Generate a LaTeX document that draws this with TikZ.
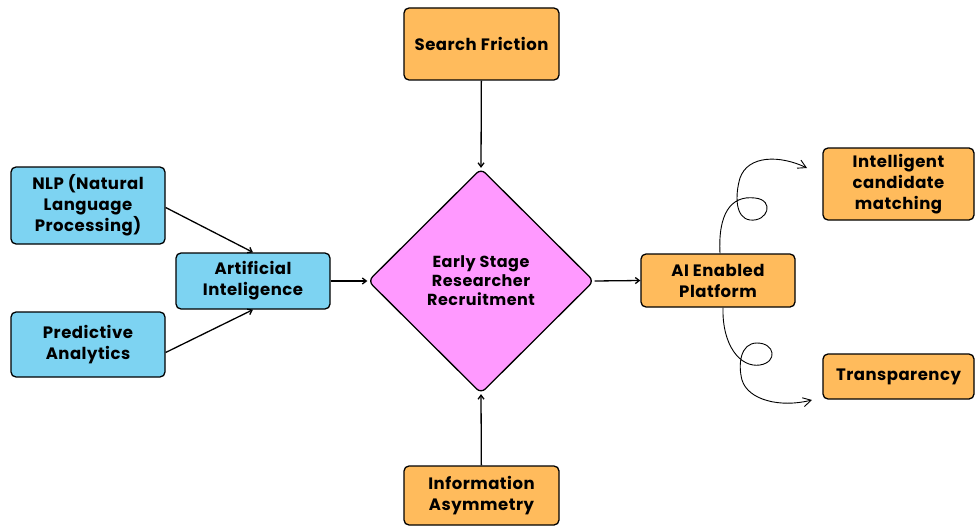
\documentclass[tikz,border=0pt]{standalone}
\usepackage{fontspec}
\setmainfont{Poppins}[LetterSpace=3]
\usetikzlibrary{shapes.geometric,arrows.meta}
\definecolor{skyblue}{HTML}{7DD3F2}
\definecolor{apricot}{HTML}{FFBB5C}
\definecolor{orchid}{HTML}{FF99FF}

\begin{document}
\begin{tikzpicture}[x=1pt,y=-1pt,
    box/.style={draw,line width=1.3pt,rounded corners=5pt,align=center,inner sep=0pt,
                font=\bfseries\fontsize{16.5}{21}\selectfont},
    bluebox/.style={box,fill=skyblue},
    orangebox/.style={box,fill=apricot},
    hub/.style={diamond,draw,line width=1.3pt,rounded corners=6pt,fill=orchid,inner sep=0pt,
                minimum width=226pt,minimum height=225pt,align=center,
                font=\bfseries\fontsize{16}{19}\selectfont},
    arr/.style={line width=1.3pt,-{Straight Barb[length=4pt,width=6pt]}},
    curl/.style={line width=0.9pt,-{Straight Barb[length=8pt,width=9pt]}}]
  \useasboundingbox (0,0) rectangle (975,527);
  % centre of the map and the two pressures on it
  \node[hub] (ers) at (481,281) {Early Stage\\Researcher\\Recruitment};
  \node[orangebox,minimum width=155pt,minimum height=72pt] (search) at (481.5,44) {Search Friction};
  \node[orangebox,minimum width=155pt,minimum height=59pt] (info) at (481.5,495.5) {Information\\Asymmetry};
  % AI side, left
  \node[bluebox,minimum width=154pt,minimum height=77pt] (nlp) at (88,205.5) {NLP (Natural\\Language\\Processing)};
  \node[bluebox,minimum width=154pt,minimum height=65pt] (pred) at (88,344.5) {Predictive\\Analytics};
  \node[bluebox,minimum width=154pt,minimum height=56pt] (ai) at (253,281) {Artificial\\Inteligence};
  % platform and what it gives, right
  \node[orangebox,minimum width=154pt,minimum height=53pt] (platform) at (718,280.5) {AI Enabled\\Platform};
  \node[orangebox,minimum width=151pt,minimum height=72pt] (match) at (898.5,184) {Intelligent\\candidate\\matching};
  \node[orangebox,minimum width=151pt,minimum height=45pt] (transp) at (898.5,376.5) {Transparency};
  \coordinate (matchin) at (807,168);
  \coordinate (transpin) at (812,400);

  \draw[arr] ([yshift=-2pt]nlp.east) -- (ai.north);
  \draw[arr] ([yshift=-8pt]pred.east) -- (ai.south);
  \draw[arr] (ai) -- (ers.west);
  \draw[arr] (search) -- (ers.north);
  \draw[arr] (info) -- (ers.south);
  \draw[arr] (ers.east) -- (platform.west);
  % looping arrows
  \draw[curl] ([xshift=2pt]platform.north) .. controls (718,215) and (730,195) .. (755,198)
    .. controls (775,200) and (768,222) .. (750,220)
    .. controls (735,218) and (735,195) .. (740,178)
    .. controls (748,155) and (780,155) .. (matchin);
  \draw[curl] ([xshift=5pt]platform.south) .. controls (722,345) and (740,368) .. (760,365)
    .. controls (778,362) and (775,343) .. (757,343)
    .. controls (740,343) and (738,365) .. (742,380)
    .. controls (748,400) and (780,408) .. (transpin);
\end{tikzpicture}
\end{document}
